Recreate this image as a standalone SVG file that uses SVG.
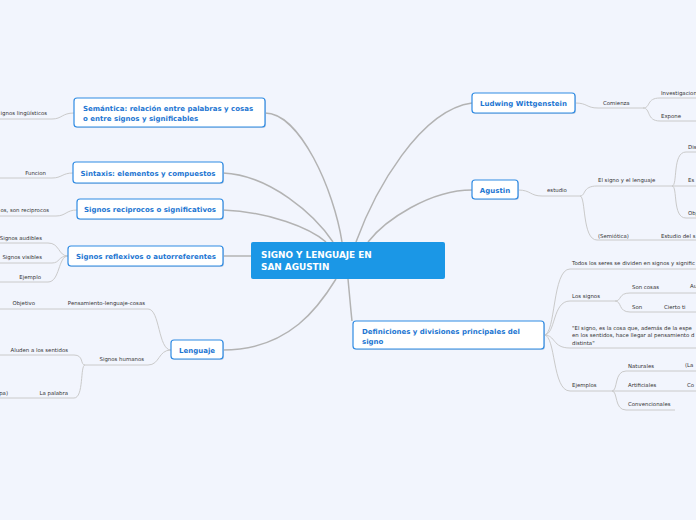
<svg xmlns="http://www.w3.org/2000/svg" width="696" height="520" viewBox="0 0 696 520">
<defs>
<style>
.bg{fill:#f2f5fd}
.main{stroke:#b3b3b3;stroke-width:1.5;fill:none}
.sub{stroke:#cacaca;stroke-width:1;fill:none}
.node rect.box{fill:#ffffff;stroke:#2f8be3;stroke-width:1.2}
.node rect.sh{fill:#c9d3e3}
.nt{font-family:"DejaVu Sans",Verdana,sans-serif;font-weight:bold;font-size:7px;fill:#1d76d2}
.ct{font-family:"DejaVu Sans",Verdana,sans-serif;font-weight:bold;font-size:8.9px;fill:#ffffff}
.lt{font-family:"DejaVu Sans",Verdana,sans-serif;font-size:5.4px;fill:#333333}
</style>
</defs>
<rect class="bg" x="0" y="0" width="696" height="520"/>

<g id="connectors">
<path class="main" d="M265,113 C300,113 334,190 342,242"/>
<path class="main" d="M223,173 C270,175 315,215 333,242"/>
<path class="main" d="M223,210 C270,212 310,228 326,242"/>
<path class="main" d="M223,256 L251,256"/>
<path class="main" d="M223,350 C290,350 320,305 336,279"/>
<path class="main" d="M472,103 C420,110 375,190 356,242"/>
<path class="main" d="M472,190 C430,190 385,220 368,242"/>
<path class="main" d="M348,279 C350,300 351,312 352,321"/>

<path class="sub" d="M74,113 C62,113 62,119 52,119 L0,119"/>
<path class="sub" d="M73,173 C62,173 62,178 52,178 L0,178"/>
<path class="sub" d="M77,210 C66,210 66,216 56,216 L0,216"/>
<path class="sub" d="M68,256 C58,256 60,243 48,243 L0,243"/>
<path class="sub" d="M68,256 C58,256 60,263 52,263 L0,263"/>
<path class="sub" d="M68,256 C58,256 60,282 48,282 L0,282"/>
<path class="sub" d="M171,350 C158,350 160,309 148,309 L0,309"/>
<path class="sub" d="M171,350 C158,350 160,365 148,365 L85,365"/>
<path class="sub" d="M85,365 C80,365 84,355 74,355 L0,355"/>
<path class="sub" d="M85,365 C80,365 84,398 74,398 L0,398"/>

<path class="sub" d="M575,103 C588,103 586,108 598,108 L643,108"/>
<path class="sub" d="M643,108 C651,108 646,98 660,98 L696,98"/>
<path class="sub" d="M643,108 C651,108 646,121 660,121 L696,121"/>
<path class="sub" d="M518,190 C531,190 530,196 542,196 L580,196"/>
<path class="sub" d="M580,196 C586,196 582,186 597,186 L672,186"/>
<path class="sub" d="M580,196 C586,196 582,240 597,240 L696,240"/>
<path class="sub" d="M672,186 C678,186 672,152 686,152 L696,152"/>
<path class="sub" d="M672,186 L696,186"/>
<path class="sub" d="M672,186 C678,186 672,218 686,218 L696,218"/>
<path class="sub" d="M544,335 C556,335 552,269 570,269 L696,269"/>
<path class="sub" d="M544,335 C556,335 552,301 570,301 L615,301"/>
<path class="sub" d="M615,301 C622,301 618,293 630,293 L696,293"/>
<path class="sub" d="M615,301 C622,301 618,312 630,312 L696,312"/>
<path class="sub" d="M544,335 C556,335 552,348 570,348 L696,348"/>
<path class="sub" d="M544,335 C556,335 552,391 570,391 L612,391"/>
<path class="sub" d="M612,391 C618,391 614,371 626,371 L696,371"/>
<path class="sub" d="M612,391 L696,391"/>
<path class="sub" d="M612,391 C618,391 614,410 626,410 L675,410"/>
</g>

<g id="center" class="node">
<rect x="251" y="242" width="194" height="37" rx="2" fill="#1b97e6"/>
<text class="ct" x="261" y="258">SIGNO Y LENGUAJE EN</text>
<text class="ct" x="261" y="269.5">SAN AGUSTIN</text>
</g>

<g id="semantica" class="node">
<rect class="sh" x="75" y="99" width="191" height="29" rx="3"/>
<rect class="box" x="74" y="98" width="191" height="29" rx="3"/>
<text class="nt" x="83" y="111">Semántica: relación entre palabras y cosas</text>
<text class="nt" x="83" y="121">o entre signos y significables</text>
</g>
<g id="sintaxis" class="node">
<rect class="sh" x="74" y="163" width="150" height="21" rx="3"/>
<rect class="box" x="73" y="162" width="150" height="21" rx="3"/>
<text class="nt" x="148" y="175.5" text-anchor="middle">Sintaxis: elementos y compuestos</text>
</g>
<g id="reciprocos" class="node">
<rect class="sh" x="78" y="200" width="146" height="20" rx="3"/>
<rect class="box" x="77" y="199" width="146" height="20" rx="3"/>
<text class="nt" x="150" y="212" text-anchor="middle">Signos reciprocos o significativos</text>
</g>
<g id="reflexivos" class="node">
<rect class="sh" x="69" y="247" width="155" height="20" rx="3"/>
<rect class="box" x="68" y="246" width="155" height="20" rx="3"/>
<text class="nt" x="146" y="259" text-anchor="middle">Signos reflexivos o autorreferentes</text>
</g>
<g id="lenguaje" class="node">
<rect class="sh" x="172" y="341" width="52" height="19" rx="3"/>
<rect class="box" x="171" y="340" width="52" height="19" rx="3"/>
<text class="nt" x="197" y="352.5" text-anchor="middle">Lenguaje</text>
</g>
<g id="wittgenstein" class="node">
<rect class="sh" x="473" y="94" width="103" height="20" rx="3"/>
<rect class="box" x="472" y="93" width="103" height="20" rx="3"/>
<text class="nt" x="523.5" y="106" text-anchor="middle">Ludwing Wittgenstein</text>
</g>
<g id="agustin" class="node">
<rect class="sh" x="473" y="181" width="46" height="19" rx="3"/>
<rect class="box" x="472" y="180" width="46" height="19" rx="3"/>
<text class="nt" x="495" y="193" text-anchor="middle">Agustin</text>
</g>
<g id="definiciones" class="node">
<rect class="sh" x="354" y="322" width="191" height="28" rx="3"/>
<rect class="box" x="353" y="321" width="191" height="28" rx="3"/>
<text class="nt" x="362" y="334">Definiciones y divisiones principales del</text>
<text class="nt" x="362" y="344">signo</text>
</g>

<g id="labels">
<text class="lt" x="47" y="115" text-anchor="end">ignos lingüísticos</text>
<text class="lt" x="46" y="174.5" text-anchor="end">Funcion</text>
<text class="lt" x="49" y="212" text-anchor="end">os, son reciprocos</text>
<text class="lt" x="42" y="239.5" text-anchor="end">Signos audibles</text>
<text class="lt" x="42" y="259" text-anchor="end">Signos visibles</text>
<text class="lt" x="41" y="278.5" text-anchor="end">Ejemplo</text>
<text class="lt" x="145" y="305" text-anchor="end">Pensamiento-lenguaje-cosas</text>
<text class="lt" x="35" y="305" text-anchor="end">Objetivo</text>
<text class="lt" x="144" y="361" text-anchor="end">Signos humanos</text>
<text class="lt" x="68" y="351.5" text-anchor="end">Aluden a los sentidos</text>
<text class="lt" x="68" y="394.5" text-anchor="end">La palabra</text>
<text class="lt" x="8" y="394.5" text-anchor="end">pa)</text>

<text class="lt" x="603" y="104.5">Comienza</text>
<text class="lt" x="661" y="95">Investigacion</text>
<text class="lt" x="661" y="117.5">Expone</text>
<text class="lt" x="547" y="192">estudio</text>
<text class="lt" x="598" y="182">El signo y el lenguaje</text>
<text class="lt" x="598" y="237.5">(Semiótica)</text>
<text class="lt" x="661" y="237.5">Estudio del s</text>
<text class="lt" x="688" y="148.5">Dis</text>
<text class="lt" x="688" y="182">Es</text>
<text class="lt" x="688" y="214.5">Obj</text>
<text class="lt" x="572" y="265">Todos los seres se dividen en signos y signific</text>
<text class="lt" x="572" y="298">Los signos</text>
<text class="lt" x="632" y="289">Son cosas</text>
<text class="lt" x="690" y="287.5">Au</text>
<text class="lt" x="632" y="308.5">Son</text>
<text class="lt" x="664" y="308.5">Cierto ti</text>
<text class="lt" x="572" y="329.5">"El signo, es la cosa que, además de la espe</text>
<text class="lt" x="572" y="337">en los sentidos, hace llegar al pensamiento d</text>
<text class="lt" x="572" y="344.5">distinta"</text>
<text class="lt" x="572" y="387">Ejemplos</text>
<text class="lt" x="628" y="368">Naturales</text>
<text class="lt" x="685" y="367">(La</text>
<text class="lt" x="628" y="387">Artificiales</text>
<text class="lt" x="687" y="387">Co</text>
<text class="lt" x="628" y="406">Convencionales</text>
</g>
</svg>
